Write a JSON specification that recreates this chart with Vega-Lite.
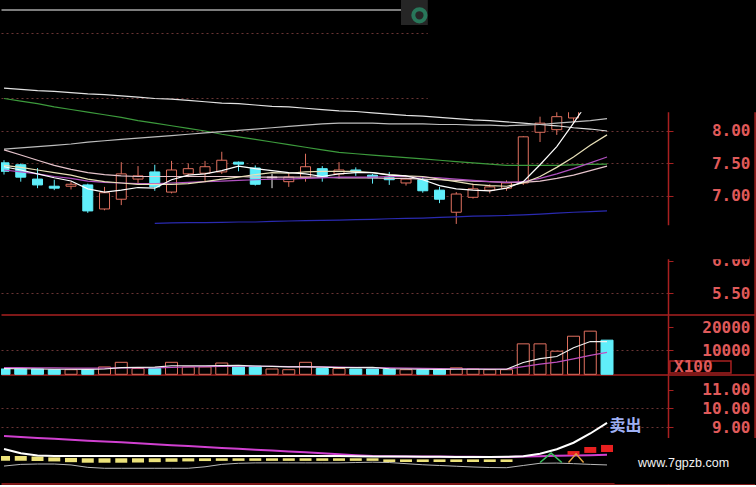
{
  "$schema": "https://vega.github.io/schema/vega-lite/v6.json",
  "background": "#000000",
  "padding": 0,
  "spacing": 0,
  "bounds": "flush",
  "resolve": {"scale": {"color": "independent"}},
  "config": {"view": {"stroke": null}, "axis": {"title": null, "labelOverlap": false}, "scale": {"continuousPadding": 0}},
  "datasets": {
    "k": [
      {"i":0,"o":7.51,"h":7.55,"l":7.33,"c":7.38,"d":"down","v":1800,"a":8.66,"g":8.50,"lc":7.72,"m5":7.45,"m10":7.47,"m20":7.40,"m30":7.71,"bl":null,"vm5":2000,"vm10":2400,"im":8.51,"iw":7.81,"ig":6.89,"y1":7.18,"y2":7.43,"r1":null,"r2":null},
      {"i":1,"o":7.48,"h":7.50,"l":7.22,"c":7.29,"d":"down","v":1800,"a":8.64,"g":8.46,"lc":7.74,"m5":7.40,"m10":7.44,"m20":7.37,"m30":7.63,"bl":null,"vm5":1900,"vm10":2400,"im":8.46,"iw":7.58,"ig":6.98,"y1":7.18,"y2":7.43,"r1":null,"r2":null},
      {"i":2,"o":7.26,"h":7.43,"l":7.12,"c":7.17,"d":"down","v":1800,"a":8.62,"g":8.42,"lc":7.76,"m5":7.34,"m10":7.40,"m20":7.34,"m30":7.55,"bl":null,"vm5":1800,"vm10":2300,"im":8.41,"iw":7.46,"ig":7.00,"y1":7.16,"y2":7.40,"r1":null,"r2":null},
      {"i":3,"o":7.15,"h":7.25,"l":7.09,"c":7.12,"d":"down","v":1500,"a":8.61,"g":8.37,"lc":7.78,"m5":7.28,"m10":7.36,"m20":7.30,"m30":7.47,"bl":null,"vm5":1700,"vm10":2300,"im":8.36,"iw":7.43,"ig":7.00,"y1":7.14,"y2":7.36,"r1":null,"r2":null},
      {"i":4,"o":7.15,"h":7.22,"l":7.10,"c":7.18,"d":"up","v":1500,"a":8.59,"g":8.33,"lc":7.80,"m5":7.23,"m10":7.32,"m20":7.27,"m30":7.41,"bl":null,"vm5":1700,"vm10":2200,"im":8.31,"iw":7.43,"ig":6.95,"y1":7.10,"y2":7.33,"r1":null,"r2":null},
      {"i":5,"o":7.17,"h":7.19,"l":6.74,"c":6.77,"d":"down","v":1500,"a":8.57,"g":8.29,"lc":7.83,"m5":7.11,"m10":7.26,"m20":7.23,"m30":7.36,"bl":null,"vm5":1600,"vm10":2200,"im":8.26,"iw":7.43,"ig":6.82,"y1":7.07,"y2":7.31,"r1":null,"r2":null},
      {"i":6,"o":6.80,"h":7.14,"l":6.78,"c":7.05,"d":"up","v":2700,"a":8.56,"g":8.25,"lc":7.85,"m5":7.06,"m10":7.22,"m20":7.21,"m30":7.33,"bl":null,"vm5":1800,"vm10":2200,"im":8.22,"iw":7.43,"ig":6.77,"y1":7.07,"y2":7.31,"r1":null,"r2":null},
      {"i":7,"o":6.95,"h":7.52,"l":6.86,"c":7.34,"d":"up","v":4700,"a":8.54,"g":8.21,"lc":7.87,"m5":7.09,"m10":7.20,"m20":7.20,"m30":7.31,"bl":null,"vm5":2400,"vm10":2300,"im":8.17,"iw":7.43,"ig":6.77,"y1":7.07,"y2":7.31,"r1":null,"r2":null},
      {"i":8,"o":7.26,"h":7.46,"l":7.20,"c":7.31,"d":"up","v":2000,"a":8.52,"g":8.16,"lc":7.89,"m5":7.13,"m10":7.18,"m20":7.19,"m30":7.30,"bl":null,"vm5":2500,"vm10":2300,"im":8.12,"iw":7.43,"ig":6.77,"y1":7.08,"y2":7.31,"r1":null,"r2":null},
      {"i":9,"o":7.37,"h":7.48,"l":7.08,"c":7.14,"d":"down","v":2000,"a":8.50,"g":8.12,"lc":7.91,"m5":7.12,"m10":7.18,"m20":7.19,"m30":7.30,"bl":6.58,"vm5":2600,"vm10":2300,"im":8.07,"iw":7.43,"ig":6.77,"y1":7.10,"y2":7.31,"r1":null,"r2":null},
      {"i":10,"o":7.06,"h":7.54,"l":7.04,"c":7.40,"d":"up","v":4700,"a":8.49,"g":8.08,"lc":7.93,"m5":7.25,"m10":7.18,"m20":7.20,"m30":7.30,"bl":6.585,"vm5":3200,"vm10":2500,"im":8.02,"iw":7.43,"ig":6.77,"y1":7.12,"y2":7.31,"r1":null,"r2":null},
      {"i":11,"o":7.34,"h":7.50,"l":7.29,"c":7.42,"d":"up","v":2700,"a":8.47,"g":8.04,"lc":7.95,"m5":7.32,"m10":7.19,"m20":7.21,"m30":7.30,"bl":6.59,"vm5":3200,"vm10":2700,"im":7.97,"iw":7.43,"ig":6.77,"y1":7.14,"y2":7.31,"r1":null,"r2":null},
      {"i":12,"o":7.35,"h":7.54,"l":7.22,"c":7.45,"d":"up","v":2700,"a":8.45,"g":8.00,"lc":7.97,"m5":7.34,"m10":7.22,"m20":7.22,"m30":7.30,"bl":6.59,"vm5":3200,"vm10":2800,"im":7.92,"iw":7.43,"ig":6.85,"y1":7.16,"y2":7.31,"r1":null,"r2":null},
      {"i":13,"o":7.37,"h":7.68,"l":7.34,"c":7.55,"d":"up","v":4400,"a":8.43,"g":7.95,"lc":7.99,"m5":7.39,"m10":7.26,"m20":7.23,"m30":7.30,"bl":6.595,"vm5":3300,"vm10":2900,"im":7.87,"iw":7.43,"ig":6.98,"y1":7.17,"y2":7.31,"r1":null,"r2":null},
      {"i":14,"o":7.52,"h":7.53,"l":7.38,"c":7.49,"d":"down","v":2700,"a":8.42,"g":7.91,"lc":8.01,"m5":7.46,"m10":7.29,"m20":7.24,"m30":7.30,"bl":6.60,"vm5":3400,"vm10":3000,"im":7.82,"iw":7.43,"ig":7.04,"y1":7.17,"y2":7.31,"r1":null,"r2":null},
      {"i":15,"o":7.43,"h":7.47,"l":7.16,"c":7.18,"d":"down","v":3000,"a":8.40,"g":7.87,"lc":8.03,"m5":7.42,"m10":7.33,"m20":7.25,"m30":7.29,"bl":6.60,"vm5":3100,"vm10":3000,"im":7.77,"iw":7.43,"ig":7.06,"y1":7.17,"y2":7.31,"r1":null,"r2":null},
      {"i":16,"o":7.29,"h":7.34,"l":7.12,"c":7.28,"d":"flat","v":1800,"a":8.38,"g":7.83,"lc":8.05,"m5":7.39,"m10":7.36,"m20":7.26,"m30":7.29,"bl":6.61,"vm5":2900,"vm10":2900,"im":7.73,"iw":7.43,"ig":7.06,"y1":7.17,"y2":7.31,"r1":null,"r2":null},
      {"i":17,"o":7.22,"h":7.35,"l":7.14,"c":7.29,"d":"up","v":1500,"a":8.37,"g":7.79,"lc":8.07,"m5":7.36,"m10":7.35,"m20":7.26,"m30":7.29,"bl":6.615,"vm5":2700,"vm10":2800,"im":7.68,"iw":7.43,"ig":7.06,"y1":7.17,"y2":7.31,"r1":null,"r2":null},
      {"i":18,"o":7.29,"h":7.65,"l":7.22,"c":7.45,"d":"up","v":4700,"a":8.35,"g":7.75,"lc":8.09,"m5":7.34,"m10":7.37,"m20":7.27,"m30":7.29,"bl":6.62,"vm5":2700,"vm10":2800,"im":7.63,"iw":7.43,"ig":7.06,"y1":7.17,"y2":7.31,"r1":null,"r2":null},
      {"i":19,"o":7.42,"h":7.46,"l":7.22,"c":7.29,"d":"down","v":2000,"a":8.33,"g":7.71,"lc":8.11,"m5":7.30,"m10":7.38,"m20":7.28,"m30":7.29,"bl":6.625,"vm5":2600,"vm10":2700,"im":7.58,"iw":7.43,"ig":7.06,"y1":7.17,"y2":7.31,"r1":null,"r2":null},
      {"i":20,"o":7.34,"h":7.52,"l":7.27,"c":7.40,"d":"up","v":2000,"a":8.31,"g":7.67,"lc":8.12,"m5":7.34,"m10":7.38,"m20":7.29,"m30":7.28,"bl":6.63,"vm5":2400,"vm10":2600,"im":7.53,"iw":7.43,"ig":7.06,"y1":7.17,"y2":7.31,"r1":null,"r2":null},
      {"i":21,"o":7.40,"h":7.44,"l":7.31,"c":7.37,"d":"down","v":1800,"a":8.30,"g":7.65,"lc":8.12,"m5":7.36,"m10":7.38,"m20":7.29,"m30":7.28,"bl":6.635,"vm5":2400,"vm10":2500,"im":7.48,"iw":7.42,"ig":7.08,"y1":7.17,"y2":7.31,"r1":null,"r2":null},
      {"i":22,"o":7.32,"h":7.34,"l":7.19,"c":7.28,"d":"down","v":1800,"a":8.28,"g":7.63,"lc":8.12,"m5":7.36,"m10":7.36,"m20":7.29,"m30":7.28,"bl":6.64,"vm5":2500,"vm10":2400,"im":7.43,"iw":7.41,"ig":7.10,"y1":7.17,"y2":7.31,"r1":null,"r2":null},
      {"i":23,"o":7.28,"h":7.37,"l":7.17,"c":7.25,"d":"down","v":1800,"a":8.26,"g":7.61,"lc":8.11,"m5":7.32,"m10":7.33,"m20":7.30,"m30":7.27,"bl":6.65,"vm5":1900,"vm10":2300,"im":7.42,"iw":7.40,"ig":7.08,"y1":7.11,"y2":7.25,"r1":null,"r2":null},
      {"i":24,"o":7.20,"h":7.28,"l":7.16,"c":7.26,"d":"up","v":1500,"a":8.24,"g":7.59,"lc":8.11,"m5":7.31,"m10":7.31,"m20":7.30,"m30":7.27,"bl":6.655,"vm5":1800,"vm10":2200,"im":7.41,"iw":7.40,"ig":7.02,"y1":7.11,"y2":7.25,"r1":null,"r2":null},
      {"i":25,"o":7.25,"h":7.29,"l":7.05,"c":7.08,"d":"down","v":1500,"a":8.23,"g":7.57,"lc":8.11,"m5":7.25,"m10":7.30,"m20":7.29,"m30":7.26,"bl":6.66,"vm5":1700,"vm10":2100,"im":7.40,"iw":7.39,"ig":6.96,"y1":7.11,"y2":7.25,"r1":null,"r2":null},
      {"i":26,"o":7.09,"h":7.14,"l":6.89,"c":6.95,"d":"down","v":1500,"a":8.21,"g":7.55,"lc":8.10,"m5":7.16,"m10":7.26,"m20":7.28,"m30":7.25,"bl":6.67,"vm5":1600,"vm10":2000,"im":7.40,"iw":7.39,"ig":6.92,"y1":7.11,"y2":7.25,"r1":null,"r2":null},
      {"i":27,"o":6.75,"h":7.06,"l":6.57,"c":7.03,"d":"up","v":2300,"a":8.19,"g":7.53,"lc":8.10,"m5":7.11,"m10":7.22,"m20":7.26,"m30":7.24,"bl":6.68,"vm5":1700,"vm10":1900,"im":7.39,"iw":7.38,"ig":6.88,"y1":7.11,"y2":7.25,"r1":null,"r2":null},
      {"i":28,"o":6.98,"h":7.19,"l":6.96,"c":7.11,"d":"up","v":1800,"a":8.17,"g":7.51,"lc":8.09,"m5":7.09,"m10":7.18,"m20":7.24,"m30":7.23,"bl":6.69,"vm5":1700,"vm10":1900,"im":7.39,"iw":7.38,"ig":6.84,"y1":7.11,"y2":7.25,"r1":null,"r2":null},
      {"i":29,"o":7.09,"h":7.18,"l":7.04,"c":7.14,"d":"up","v":1500,"a":8.16,"g":7.49,"lc":8.09,"m5":7.08,"m10":7.16,"m20":7.22,"m30":7.22,"bl":6.695,"vm5":1700,"vm10":1800,"im":7.38,"iw":7.38,"ig":6.81,"y1":7.11,"y2":7.25,"r1":null,"r2":null},
      {"i":30,"o":7.12,"h":7.24,"l":7.08,"c":7.20,"d":"up","v":1500,"a":8.14,"g":7.47,"lc":8.08,"m5":7.12,"m10":7.15,"m20":7.21,"m30":7.21,"bl":6.70,"vm5":1700,"vm10":1800,"im":7.38,"iw":7.39,"ig":6.80,"y1":7.11,"y2":7.25,"r1":null,"r2":null},
      {"i":31,"o":7.20,"h":7.92,"l":7.17,"c":7.91,"d":"up","v":12700,"a":8.12,"g":7.47,"lc":8.09,"m5":7.22,"m10":7.20,"m20":7.22,"m30":7.21,"bl":6.71,"vm5":4600,"vm10":2800,"im":7.40,"iw":7.42,"ig":6.92,"y1":null,"y2":null,"r1":null,"r2":null},
      {"i":32,"o":7.98,"h":8.22,"l":7.83,"c":8.12,"d":"up","v":12700,"a":8.10,"g":7.47,"lc":8.10,"m5":7.48,"m10":7.30,"m20":7.27,"m30":7.23,"bl":6.72,"vm5":6300,"vm10":3900,"im":7.42,"iw":7.55,"ig":7.04,"y1":null,"y2":null,"r1":null,"r2":null},
      {"i":33,"o":8.02,"h":8.30,"l":7.94,"c":8.22,"d":"up","v":9500,"a":8.08,"g":7.47,"lc":8.12,"m5":7.76,"m10":7.44,"m20":7.34,"m30":7.27,"bl":6.735,"vm5":7200,"vm10":4800,"im":7.44,"iw":7.80,"ig":7.05,"y1":null,"y2":null,"r1":null,"r2":null},
      {"i":34,"o":8.20,"h":8.45,"l":8.12,"c":8.38,"d":"up","v":16000,"a":8.05,"g":7.48,"lc":8.14,"m5":8.12,"m10":7.60,"m20":7.42,"m30":7.32,"bl":6.75,"vm5":11000,"vm10":6200,"im":7.46,"iw":8.15,"ig":7.02,"y1":null,"y2":null,"r1":7.49,"r2":7.70},
      {"i":35,"o":8.40,"h":8.75,"l":8.30,"c":8.65,"d":"up","v":18200,"a":8.03,"g":7.485,"lc":8.16,"m5":8.50,"m10":7.78,"m20":7.51,"m30":7.39,"bl":6.76,"vm5":13700,"vm10":7700,"im":7.48,"iw":8.65,"ig":6.98,"y1":null,"y2":null,"r1":7.60,"r2":7.92},
      {"i":36,"o":8.70,"h":8.85,"l":8.45,"c":8.55,"d":"down","v":14300,"a":8.00,"g":7.49,"lc":8.19,"m5":8.80,"m10":7.94,"m20":7.60,"m30":7.46,"bl":6.77,"vm5":13700,"vm10":9000,"im":7.50,"iw":9.22,"ig":6.95,"y1":null,"y2":null,"r1":7.65,"r2":8.03}
    ]
  },
  "vconcat": [
    {
      "width": 667, "height": 315,
      "layer": [
        {
          "data": {"values": [{"x1": -0.15, "x2": 23.7, "p": 9.86}]},
          "mark": {"type": "rule", "color": "#7c7c7c", "strokeWidth": 2},
          "encoding": {
            "x": {"field": "x1", "type": "quantitative", "scale": {"domain": [-0.18, 39.64], "nice": false, "zero": false, "padding": 0}, "axis": null},
            "x2": {"field": "x2"},
            "y": {"field": "p", "type": "quantitative", "scale": {"domain": [5.169, 10.015], "nice": false, "zero": false},
              "axis": {"orient": "right", "title": null, "values": [5.5, 5.75, 6, 6.25, 6.5, 6.75, 7, 7.25, 7.5, 7.75, 8, 8.25, 8.5, 9, 9.5, 10],
                "grid": true, "gridColor": {"condition": {"test": "datum.value % 0.5 != 0 || datum.value == 6 || datum.value == 6.5", "value": "transparent"}, "value": "#6a3434"},
                "gridDash": [2, 3], "gridWidth": 1, "domainColor": "#a82020", "domainWidth": 1.5, "tickColor": "#a82020", "tickSize": 5,
                "labelExpr": "datum.value % 0.5 == 0 && datum.value <= 8 && datum.value != 6.5 ? format(datum.value, '.2f') : ''",
                "labelAlign": "right", "labelBaseline": "middle", "labelPadding": 77, "labelFont": "DejaVu Sans Mono", "labelFontWeight": "bold", "labelFontSize": 16, "labelColor": "#e05a5a", "labelOverlap": false}}
          }
        },
        {
          "data": {"name": "k"},
          "mark": {"type": "rule", "clip": true, "strokeWidth": 1},
          "encoding": {
            "x": {"field": "i", "type": "quantitative", "scale": {"domain": [-0.18, 39.64], "nice": false, "zero": false, "padding": 0}, "axis": null},
            "y": {"field": "l", "type": "quantitative", "scale": {"domain": [5.169, 10.015], "nice": false, "zero": false}, "axis": {"title": null}},
            "y2": {"field": "h"},
            "color": {"condition": [{"test": "datum.d == 'up'", "value": "#e0705f"}, {"test": "datum.d == 'flat'", "value": "#f0f0f0"}], "value": "#60eefa"}
          }
        },
        {
          "data": {"name": "k"},
          "mark": {"type": "bar", "width": 10, "clip": true, "strokeWidth": 1},
          "encoding": {
            "x": {"field": "i", "type": "quantitative", "scale": {"domain": [-0.18, 39.64], "nice": false, "zero": false, "padding": 0}, "axis": null},
            "y": {"field": "o", "type": "quantitative", "scale": {"domain": [5.169, 10.015], "nice": false, "zero": false}, "axis": {"title": null}},
            "y2": {"field": "c"},
            "fill": {"condition": [{"test": "datum.d == 'up'", "value": "#000000"}, {"test": "datum.d == 'flat'", "value": "#f0f0f0"}], "value": "#60eefa"},
            "stroke": {"condition": [{"test": "datum.d == 'up'", "value": "#e0705f"}, {"test": "datum.d == 'flat'", "value": "#f0f0f0"}], "value": "#60eefa"}
          }
        },
        {
          "data": {"name": "k"},
          "transform": [{"fold": ["bl", "g", "a", "lc", "m30", "m20", "m10", "m5"], "as": ["s", "val"]}, {"filter": "datum.val != null"}],
          "mark": {"type": "line", "strokeWidth": 1.2, "clip": true},
          "encoding": {
            "x": {"field": "i", "type": "quantitative", "scale": {"domain": [-0.18, 39.64], "nice": false, "zero": false, "padding": 0}, "axis": null},
            "y": {"field": "val", "type": "quantitative", "scale": {"domain": [5.169, 10.015], "nice": false, "zero": false}, "axis": {"title": null}},
            "color": {"field": "s", "type": "nominal", "legend": null,
              "scale": {"domain": ["bl", "g", "a", "lc", "m30", "m20", "m10", "m5"], "range": ["#2a2ab0", "#3c9a3c", "#e2e2e2", "#bdbdbd", "#e6c4cc", "#b050c0", "#e8e0b8", "#ffffff"]}}
          }
        },
        {
          "data": {"values": [{"x1": 25.3, "x2": 44.9, "p1": 8.29, "p2": 10.015}, {"x1": -0.15, "x2": 44.5, "p1": 6.025, "p2": 6.55}]},
          "mark": {"type": "rect", "color": "#000000"},
          "encoding": {
            "x": {"field": "x1", "type": "quantitative", "scale": {"domain": [-0.18, 39.64], "nice": false, "zero": false, "padding": 0}, "axis": null},
            "x2": {"field": "x2"},
            "y": {"field": "p1", "type": "quantitative", "scale": {"domain": [5.169, 10.015], "nice": false, "zero": false}, "axis": {"title": null}},
            "y2": {"field": "p2"}
          }
        },
        {
          "data": {"values": [{"x1": 23.7, "x2": 25.3, "p1": 9.63, "p2": 10.015}]},
          "mark": {"type": "rect", "color": "#262626"},
          "encoding": {
            "x": {"field": "x1", "type": "quantitative", "scale": {"domain": [-0.18, 39.64], "nice": false, "zero": false, "padding": 0}, "axis": null},
            "x2": {"field": "x2"},
            "y": {"field": "p1", "type": "quantitative", "scale": {"domain": [5.169, 10.015], "nice": false, "zero": false}, "axis": {"title": null}},
            "y2": {"field": "p2"}
          }
        },
        {
          "data": {"values": [{"x": 24.8, "p": 9.78}]},
          "mark": {"type": "point", "filled": false, "color": "#2a9a70", "strokeWidth": 4, "size": 150},
          "encoding": {
            "x": {"field": "x", "type": "quantitative", "scale": {"domain": [-0.18, 39.64], "nice": false, "zero": false, "padding": 0}, "axis": null},
            "y": {"field": "p", "type": "quantitative", "scale": {"domain": [5.169, 10.015], "nice": false, "zero": false}, "axis": {"title": null}}
          }
        },
        {
          "data": {"values": [{"x1": -0.15, "x2": 44.84, "p1": 5.169, "p2": 5.169}, {"x1": 44.84, "x2": 44.84, "p1": 5.169, "p2": 8.29}]},
          "mark": {"type": "rule", "color": "#a82020", "strokeWidth": 1.5},
          "encoding": {
            "x": {"field": "x1", "type": "quantitative", "scale": {"domain": [-0.18, 39.64], "nice": false, "zero": false, "padding": 0}, "axis": null},
            "x2": {"field": "x2"},
            "y": {"field": "p1", "type": "quantitative", "scale": {"domain": [5.169, 10.015], "nice": false, "zero": false}, "axis": {"title": null}},
            "y2": {"field": "p2"}
          }
        }
      ]
    },
    {
      "width": 667, "height": 60,
      "layer": [
        {
          "data": {"values": [{"x1": -0.15, "x2": 44.84, "v1": -800, "v2": -800}, {"x1": 44.84, "x2": 44.84, "v1": -800, "v2": 25200}]},
          "mark": {"type": "rule", "color": "#a82020", "strokeWidth": 1.5},
          "encoding": {
            "x": {"field": "x1", "type": "quantitative", "scale": {"domain": [-0.18, 39.64], "nice": false, "zero": false, "padding": 0}, "axis": null},
            "x2": {"field": "x2"},
            "y": {"field": "v1", "type": "quantitative", "scale": {"domain": [-800, 25200], "nice": false, "zero": false},
              "axis": {"orient": "right", "title": null, "values": [10000, 20000],
                "grid": true, "gridColor": {"condition": {"test": "datum.value > 15000", "value": "transparent"}, "value": "#6a3434"},
                "gridDash": [2, 3], "domainColor": "#a82020", "domainWidth": 1.5, "tickColor": "#a82020", "tickSize": 5,
                "labelExpr": "format(datum.value, 'd')",
                "labelAlign": "right", "labelBaseline": "middle", "labelPadding": 77, "labelFont": "DejaVu Sans Mono", "labelFontWeight": "bold", "labelFontSize": 16, "labelColor": "#e05a5a", "labelOverlap": false}},
            "y2": {"field": "v2"}
          }
        },
        {
          "data": {"name": "k"},
          "mark": {"type": "bar", "width": 12, "clip": true, "strokeWidth": 1},
          "encoding": {
            "x": {"field": "i", "type": "quantitative", "scale": {"domain": [-0.18, 39.64], "nice": false, "zero": false, "padding": 0}, "axis": null},
            "y": {"field": "v", "type": "quantitative", "scale": {"domain": [-800, 25200], "nice": false, "zero": false}, "axis": {"title": null}},
            "y2": {"datum": -500},
            "fill": {"condition": {"test": "datum.d == 'down'", "value": "#60eefa"}, "value": "#000000"},
            "stroke": {"condition": {"test": "datum.d == 'down'", "value": "#60eefa"}, "value": "#e0705f"}
          }
        },
        {
          "data": {"name": "k"},
          "mark": {"type": "line", "strokeWidth": 1.2, "clip": true, "color": "#c050c0"},
          "encoding": {
            "x": {"field": "i", "type": "quantitative", "scale": {"domain": [-0.18, 39.64], "nice": false, "zero": false, "padding": 0}, "axis": null},
            "y": {"field": "vm10", "type": "quantitative", "scale": {"domain": [-800, 25200], "nice": false, "zero": false}, "axis": {"title": null}}
          }
        },
        {
          "data": {"name": "k"},
          "mark": {"type": "line", "strokeWidth": 1.2, "clip": true, "color": "#f0f0f0"},
          "encoding": {
            "x": {"field": "i", "type": "quantitative", "scale": {"domain": [-0.18, 39.64], "nice": false, "zero": false, "padding": 0}, "axis": null},
            "y": {"field": "vm5", "type": "quantitative", "scale": {"domain": [-800, 25200], "nice": false, "zero": false}, "axis": {"title": null}}
          }
        },
        {
          "data": {"values": [{"x1": 39.75, "x2": 43.4, "v1": 66, "v2": 5266}]},
          "mark": {"type": "rect", "fill": "#000000", "stroke": "#a82020", "strokeWidth": 1.5},
          "encoding": {
            "x": {"field": "x1", "type": "quantitative", "scale": {"domain": [-0.18, 39.64], "nice": false, "zero": false, "padding": 0}, "axis": null},
            "x2": {"field": "x2"},
            "y": {"field": "v1", "type": "quantitative", "scale": {"domain": [-800, 25200], "nice": false, "zero": false}, "axis": {"title": null}},
            "y2": {"field": "v2"}
          }
        },
        {
          "data": {"values": [{"x": 40.0, "v": 2700, "s": "X100"}]},
          "mark": {"type": "text", "align": "left", "baseline": "middle", "font": "DejaVu Sans Mono", "fontWeight": "bold", "fontSize": 16, "color": "#e05a5a"},
          "encoding": {
            "x": {"field": "x", "type": "quantitative", "scale": {"domain": [-0.18, 39.64], "nice": false, "zero": false, "padding": 0}, "axis": null},
            "y": {"field": "v", "type": "quantitative", "scale": {"domain": [-800, 25200], "nice": false, "zero": false}, "axis": {"title": null}},
            "text": {"field": "s"}
          }
        }
      ]
    },
    {
      "width": 667, "height": 109,
      "layer": [
        {
          "data": {"name": "k"},
          "mark": {"type": "bar", "width": 12, "clip": true, "color": "#ece27a"},
          "encoding": {
            "x": {"field": "i", "type": "quantitative", "scale": {"domain": [-0.18, 39.64], "nice": false, "zero": false, "padding": 0}, "axis": null},
            "y": {"field": "y1", "type": "quantitative", "scale": {"domain": [5.92, 11.81], "nice": false, "zero": false},
              "axis": {"orient": "right", "title": null, "values": [9, 9.5, 10, 10.5, 11, 11.5],
                "grid": true, "gridColor": {"condition": {"test": "datum.value != 9 && datum.value != 10", "value": "transparent"}, "value": "#6a3434"},
                "gridDash": [2, 3], "domainColor": "#a82020", "domainWidth": 1.5, "tickColor": "#a82020", "tickSize": 5,
                "labelExpr": "datum.value % 1 == 0 ? format(datum.value, '.2f') : ''",
                "labelAlign": "right", "labelBaseline": "middle", "labelPadding": 77, "labelFont": "DejaVu Sans Mono", "labelFontWeight": "bold", "labelFontSize": 16, "labelColor": "#e05a5a", "labelOverlap": false}},
            "y2": {"field": "y2"}
          }
        },
        {
          "data": {"name": "k"},
          "mark": {"type": "line", "color": "#b8b8b8", "strokeWidth": 1, "clip": true},
          "encoding": {
            "x": {"field": "i", "type": "quantitative", "scale": {"domain": [-0.18, 39.64], "nice": false, "zero": false, "padding": 0}, "axis": null},
            "y": {"field": "ig", "type": "quantitative", "scale": {"domain": [5.92, 11.81], "nice": false, "zero": false}, "axis": {"title": null}}
          }
        },
        {
          "data": {"name": "k"},
          "mark": {"type": "line", "color": "#d040d0", "strokeWidth": 2, "clip": true},
          "encoding": {
            "x": {"field": "i", "type": "quantitative", "scale": {"domain": [-0.18, 39.64], "nice": false, "zero": false, "padding": 0}, "axis": null},
            "y": {"field": "im", "type": "quantitative", "scale": {"domain": [5.92, 11.81], "nice": false, "zero": false}, "axis": {"title": null}}
          }
        },
        {
          "data": {"name": "k"},
          "mark": {"type": "line", "color": "#ffffff", "strokeWidth": 2, "clip": true},
          "encoding": {
            "x": {"field": "i", "type": "quantitative", "scale": {"domain": [-0.18, 39.64], "nice": false, "zero": false, "padding": 0}, "axis": null},
            "y": {"field": "iw", "type": "quantitative", "scale": {"domain": [5.92, 11.81], "nice": false, "zero": false}, "axis": {"title": null}}
          }
        },
        {
          "data": {"name": "k"},
          "transform": [{"filter": "datum.r1 != null"}],
          "mark": {"type": "bar", "width": 12, "color": "#e82020"},
          "encoding": {
            "x": {"field": "i", "type": "quantitative", "scale": {"domain": [-0.18, 39.64], "nice": false, "zero": false, "padding": 0}, "axis": null},
            "y": {"field": "r1", "type": "quantitative", "scale": {"domain": [5.92, 11.81], "nice": false, "zero": false}, "axis": {"title": null}},
            "y2": {"field": "r2"}
          }
        },
        {
          "data": {"values": [{"t": "a", "x": 32.0, "y": 7.08}, {"t": "a", "x": 32.66, "y": 7.59}, {"t": "a", "x": 33.3, "y": 7.08}, {"t": "b", "x": 33.7, "y": 7.08}, {"t": "b", "x": 34.15, "y": 7.55}, {"t": "b", "x": 34.6, "y": 7.08}]},
          "mark": {"type": "line", "strokeWidth": 1.5},
          "encoding": {
            "x": {"field": "x", "type": "quantitative", "scale": {"domain": [-0.18, 39.64], "nice": false, "zero": false, "padding": 0}, "axis": null},
            "y": {"field": "y", "type": "quantitative", "scale": {"domain": [5.92, 11.81], "nice": false, "zero": false}, "axis": {"title": null}},
            "detail": {"field": "t"},
            "color": {"condition": {"test": "datum.t == 'a'", "value": "#3cc060"}, "value": "#e0a040"}
          }
        },
        {
          "data": {"values": [{"x": 36.15, "y": 9.05, "s": "卖出"}]},
          "mark": {"type": "text", "align": "left", "baseline": "middle", "font": "Noto Sans CJK SC", "fontWeight": "bold", "fontSize": 16, "color": "#9fb0f4"},
          "encoding": {
            "x": {"field": "x", "type": "quantitative", "scale": {"domain": [-0.18, 39.64], "nice": false, "zero": false, "padding": 0}, "axis": null},
            "y": {"field": "y", "type": "quantitative", "scale": {"domain": [5.92, 11.81], "nice": false, "zero": false}, "axis": {"title": null}},
            "text": {"field": "s"}
          }
        },
        {
          "data": {"values": [{"x1": -0.15, "x2": 44.84, "y1": 5.92, "y2": 5.92}, {"x1": 44.84, "x2": 44.84, "y1": 5.92, "y2": 11.81}]},
          "mark": {"type": "rule", "color": "#a82020", "strokeWidth": 1.5},
          "encoding": {
            "x": {"field": "x1", "type": "quantitative", "scale": {"domain": [-0.18, 39.64], "nice": false, "zero": false, "padding": 0}, "axis": null},
            "x2": {"field": "x2"},
            "y": {"field": "y1", "type": "quantitative", "scale": {"domain": [5.92, 11.81], "nice": false, "zero": false}, "axis": {"title": null}},
            "y2": {"field": "y2"}
          }
        },
        {
          "data": {"values": [{"x1": 36.45, "x2": 44.9, "y1": 5.92, "y2": 8.41}]},
          "mark": {"type": "rect", "color": "#000000"},
          "encoding": {
            "x": {"field": "x1", "type": "quantitative", "scale": {"domain": [-0.18, 39.64], "nice": false, "zero": false, "padding": 0}, "axis": null},
            "x2": {"field": "x2"},
            "y": {"field": "y1", "type": "quantitative", "scale": {"domain": [5.92, 11.81], "nice": false, "zero": false}, "axis": {"title": null}},
            "y2": {"field": "y2"}
          }
        },
        {
          "data": {"values": [{"x": 40.57, "y": 7.08, "s": "www.7gpzb.com"}]},
          "mark": {"type": "text", "align": "center", "baseline": "middle", "font": "Liberation Sans", "fontSize": 12.5, "color": "#f2f2f2"},
          "encoding": {
            "x": {"field": "x", "type": "quantitative", "scale": {"domain": [-0.18, 39.64], "nice": false, "zero": false, "padding": 0}, "axis": null},
            "y": {"field": "y", "type": "quantitative", "scale": {"domain": [5.92, 11.81], "nice": false, "zero": false}, "axis": {"title": null}},
            "text": {"field": "s"}
          }
        }
      ]
    }
  ]
}
